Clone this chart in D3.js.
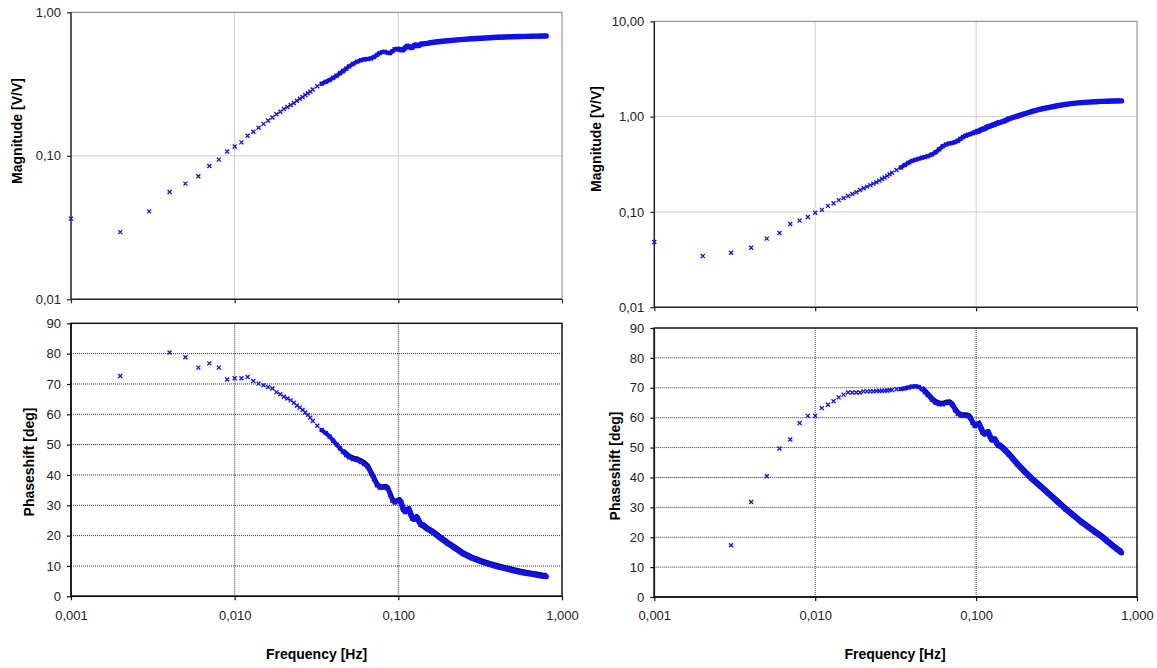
<!DOCTYPE html>
<html>
<head>
<meta charset="utf-8">
<script src="https://cdn.jsdelivr.net/npm/d3@7"></script>
<style>
  body { margin: 0; background: #fff; }
  text { font-family: Arial, 'Liberation Sans', sans-serif; }
</style>
</head>
<body>
<div id="chart-container"></div>
<script>
const freq = [
  0.001, 0.002, 0.003, 0.004, 0.005, 0.006, 0.007, 0.008, 0.009, 0.010,
  0.011, 0.012, 0.013, 0.014, 0.015, 0.016, 0.017, 0.018, 0.019, 0.020,
  0.021, 0.022, 0.023, 0.024, 0.025, 0.026, 0.027, 0.028, 0.029, 0.030,
  0.032, 0.034, 0.036, 0.038, 0.040, 0.042, 0.044, 0.046, 0.048, 0.050,
  0.053, 0.056, 0.059, 0.062, 0.065, 0.068, 0.071, 0.074, 0.077, 0.080,
  0.083, 0.086, 0.089, 0.092, 0.095, 0.098, 0.101, 0.104, 0.107, 0.110,
  0.113, 0.116, 0.119, 0.122, 0.125, 0.128, 0.131, 0.134, 0.137, 0.140,
  0.15, 0.16, 0.18, 0.20, 0.22, 0.25, 0.28, 0.32, 0.36, 0.40,
  0.45, 0.50, 0.55, 0.60, 0.65, 0.70, 0.75, 0.80
];

// left chart, magnitude [V/V]
const leftMag = [
  0.0365, 0.0294, 0.041, 0.056, 0.064, 0.072, 0.085, 0.094, 0.107, 0.116,
  0.124, 0.138, 0.147, 0.157, 0.167, 0.176, 0.185, 0.195, 0.203, 0.212,
  0.219, 0.226, 0.233, 0.242, 0.250, 0.257, 0.265, 0.273, 0.280, 0.290,
  0.305, 0.318, 0.328, 0.337, 0.350, 0.362, 0.376, 0.390, 0.405, 0.420,
  0.438, 0.453, 0.463, 0.470, 0.473, 0.477, 0.488, 0.505, 0.520, 0.530,
  0.530, 0.522, 0.520, 0.535, 0.552, 0.556, 0.553, 0.547, 0.548, 0.565,
  0.580, 0.578, 0.568, 0.570, 0.588, 0.592, 0.585, 0.588, 0.600, 0.602,
  0.608, 0.616, 0.626, 0.634, 0.640, 0.648, 0.654, 0.660, 0.665, 0.670,
  0.673, 0.676, 0.678, 0.680, 0.681, 0.682, 0.683, 0.684
];

// left chart, phaseshift [deg] (null = no point)
const leftPhase = [
  null, 72.6, null, 80.4, 78.8, 75.4, 76.8, 75.4, 71.5, 71.9,
  71.9, 72.3, 71.0, 70.1, 69.6, 69.0, 68.5, 67.3, 66.6, 65.8,
  65.2, 64.6, 63.8, 62.9, 62.2, 61.4, 60.6, 59.8, 58.9, 57.8,
  56.2, 54.8, 53.8, 52.7, 51.3, 50.0, 48.8, 47.6, 46.6, 45.8,
  45.2, 44.9, 44.3, 43.6, 42.6, 40.5, 38.6, 36.6, 35.8, 35.8,
  35.9, 35.5, 33.5, 31.5, 30.9, 31.3, 31.6, 30.8, 28.6, 27.9,
  28.5, 28.6, 27.0, 25.6, 25.4, 26.0, 25.5, 24.5, 23.6, 23.4,
  22.2, 21.3, 19.2, 17.4, 15.9, 13.9, 12.6, 11.4, 10.5, 9.8,
  9.1, 8.5, 8.0, 7.6, 7.3, 7.0, 6.7, 6.5
];

// right chart, magnitude [V/V]
const rightMag = [
  0.0483, 0.0344, 0.0373, 0.0421, 0.0524, 0.0601, 0.0747, 0.081, 0.0885, 0.098,
  0.105, 0.1156, 0.123, 0.133, 0.140, 0.147, 0.154, 0.161, 0.170, 0.177,
  0.184, 0.191, 0.198, 0.205, 0.213, 0.221, 0.230, 0.239, 0.248, 0.258,
  0.275, 0.292, 0.310, 0.328, 0.343, 0.353, 0.362, 0.370, 0.377, 0.384,
  0.400, 0.422, 0.455, 0.488, 0.510, 0.522, 0.530, 0.540, 0.558, 0.585,
  0.610, 0.630, 0.645, 0.655, 0.668, 0.685, 0.695, 0.705, 0.725, 0.740,
  0.748, 0.768, 0.785, 0.795, 0.808, 0.822, 0.832, 0.845, 0.858, 0.868,
  0.900, 0.950, 1.010, 1.070, 1.125, 1.195, 1.245, 1.300, 1.345, 1.375,
  1.400, 1.420, 1.433, 1.443, 1.450, 1.456, 1.460, 1.463
];

// right chart, phaseshift [deg]
const rightPhase = [
  null, null, 17.3, 31.8, 40.4, 49.7, 52.7, 58.2, 60.6, 60.6,
  63.2, 64.3, 65.5, 66.8, 67.7, 68.4, 68.4, 68.4, 68.4, 68.8,
  68.8, 68.8, 68.8, 68.9, 68.9, 69.0, 69.0, 69.1, 69.2, 69.3,
  69.5, 69.6, 69.8, 70.1, 70.4, 70.5, 70.3, 69.6, 68.6, 67.6,
  66.0, 65.0, 64.5, 64.5, 64.9, 65.0, 64.2, 62.5, 61.3, 60.7,
  60.6, 60.6, 60.5, 59.8, 58.2, 57.2, 57.6, 57.9, 56.5, 55.0,
  54.5, 55.0, 55.0, 53.6, 52.5, 52.6, 52.6, 51.5, 50.6, 50.6,
  49.2, 47.6, 44.4, 41.8, 39.6, 37.0, 34.6, 31.8, 29.3, 27.3,
  25.0, 23.2, 21.6, 20.2, 18.6, 17.2, 15.9, 14.8
];

const freqTicks = [0.001, 0.01, 0.1, 1];
const phaseTicks = [0, 10, 20, 30, 40, 50, 60, 70, 80, 90];
const leftMagTicks = [0.01, 0.1, 1];
const rightMagTicks = [0.01, 0.1, 1, 10];

const locale = d3.formatLocale({ decimal: ',', thousands: '.', grouping: [3], currency: ['', ''] });
const fmtFreq = locale.format('.3f');
const fmtMag = locale.format('.2f');

const svgWidth = 1157;
const svgHeight = 668;
const blue = '#1010f0';

const svg = d3
  .select('#chart-container')
  .append('svg')
  .attr('width', svgWidth)
  .attr('height', svgHeight);

const panels = [
  {
    xr: [71, 562], magR: [299.3, 12.3], phR: [596.3, 323.3],
    magTicks: leftMagTicks, mag: leftMag, ph: leftPhase,
    magLabel: [21.5, 131], phLabel: [33.5, 462], freqLabel: [316.5, 658.5]
  },
  {
    xr: [654.3, 1137], magR: [307.2, 21.3], phR: [597, 328],
    magTicks: rightMagTicks, mag: rightMag, ph: rightPhase,
    magLabel: [600.5, 139], phLabel: [619.5, 466], freqLabel: [895, 658.5]
  }
];

const marker = 'M-2,-2L2,2M-2,2L2,-2';

function drawSeries(g, x, y, values, shadow) {
  const pts = freq
    .map((f, i) => ({ f: f, v: values[i] }))
    .filter((d) => d.v !== null);

  const line = d3
    .line()
    .x((d) => x(d.f))
    .y((d) => y(d.v));

  // where the markers overlap they melt into a band
  const dense = pts.filter((d) => d.f >= 0.034);
  const thick = pts.filter((d) => d.f >= 0.1);

  if (shadow) {
    g.append('path')
      .datum(pts.filter((d) => d.f >= 0.045))
      .attr('d', line)
      .attr('transform', 'translate(0.6,-1.8)')
      .attr('fill', 'none')
      .attr('stroke', '#111')
      .attr('stroke-width', 3.5)
      .attr('stroke-linejoin', 'round');
  }
  g.append('path')
    .datum(dense)
    .attr('d', line)
    .attr('fill', 'none')
    .attr('stroke', blue)
    .attr('stroke-width', 4.2)
    .attr('stroke-linejoin', 'round')
    .attr('stroke-linecap', 'round');
  g.append('path')
    .datum(thick)
    .attr('d', line)
    .attr('fill', 'none')
    .attr('stroke', blue)
    .attr('stroke-width', 5.4)
    .attr('stroke-linejoin', 'round')
    .attr('stroke-linecap', 'round');

  g.selectAll('path.pt')
    .data(pts)
    .enter()
    .append('path')
    .attr('class', 'pt')
    .attr('d', marker)
    .attr('transform', (d) => 'translate(' + x(d.f) + ',' + y(d.v) + ')')
    .attr('stroke', blue)
    .attr('stroke-width', 1.3)
    .attr('fill', 'none');
}

panels.forEach(function (p) {
  const x = d3.scaleLog().domain([0.001, 1]).range(p.xr);
  const yMag = d3.scaleLog().domain([0.01, p.magTicks[p.magTicks.length - 1]]).range(p.magR);
  const yPh = d3.scaleLinear().domain([0, 90]).range(p.phR);

  // ---------- magnitude ----------
  const gm = svg.append('g');
  // grid
  gm.selectAll('line.hg')
    .data(p.magTicks.slice(1, -1))
    .enter()
    .append('line')
    .attr('x1', p.xr[0]).attr('x2', p.xr[1])
    .attr('y1', (d) => yMag(d)).attr('y2', (d) => yMag(d))
    .attr('stroke', '#cfcfcf').attr('stroke-width', 1);
  gm.selectAll('line.vg')
    .data(freqTicks.slice(1, -1))
    .enter()
    .append('line')
    .attr('x1', (d) => x(d)).attr('x2', (d) => x(d))
    .attr('y1', p.magR[0]).attr('y2', p.magR[1])
    .attr('stroke', '#cfcfcf').attr('stroke-width', 1);
  // top / right frame
  gm.append('path')
    .attr('d', 'M' + p.xr[0] + ',' + p.magR[1] + 'H' + p.xr[1] + 'V' + p.magR[0])
    .attr('fill', 'none').attr('stroke', '#8e9e9e').attr('stroke-width', 1.2);

  const axL = gm.append('g')
    .attr('transform', 'translate(' + p.xr[0] + ',0)')
    .call(d3.axisLeft(yMag).tickValues(p.magTicks).tickSize(4).tickPadding(6).tickFormat(fmtMag));
  const axB = gm.append('g')
    .attr('transform', 'translate(0,' + p.magR[0] + ')')
    .call(d3.axisBottom(x).tickValues(freqTicks).tickSize(4).tickFormat(''));
  [axL, axB].forEach(function (a) {
    a.select('.domain').attr('stroke', '#222').attr('stroke-width', 1.5);
    a.selectAll('.tick line').attr('stroke', '#222').attr('stroke-width', 1.2);
    a.selectAll('text').style('font-size', '13px').attr('fill', '#222');
  });
  axL.select('.domain').attr('d', 'M0,' + p.magR[0] + 'V' + p.magR[1]);
  axB.select('.domain').attr('d', 'M' + p.xr[0] + ',0H' + p.xr[1]);

  drawSeries(gm, x, yMag, p.mag, false);

  gm.append('text')
    .attr('transform', 'translate(' + p.magLabel[0] + ',' + p.magLabel[1] + ') rotate(-90)')
    .attr('text-anchor', 'middle')
    .style('font-size', '14px')
    .style('font-weight', 'bold')
    .text('Magnitude [V/V]');

  // ---------- phase ----------
  const gp = svg.append('g');
  gp.selectAll('line.hg')
    .data(phaseTicks.slice(1, -1))
    .enter()
    .append('line')
    .attr('x1', p.xr[0]).attr('x2', p.xr[1])
    .attr('y1', (d) => yPh(d)).attr('y2', (d) => yPh(d))
    .attr('stroke', '#333').attr('stroke-width', 1).attr('stroke-dasharray', '1,1');
  gp.selectAll('line.vg')
    .data(freqTicks.slice(1, -1))
    .enter()
    .append('line')
    .attr('x1', (d) => x(d)).attr('x2', (d) => x(d))
    .attr('y1', p.phR[0]).attr('y2', p.phR[1])
    .attr('stroke', '#333').attr('stroke-width', 1).attr('stroke-dasharray', '1,1');
  gp.append('rect')
    .attr('x', p.xr[0]).attr('y', p.phR[1])
    .attr('width', p.xr[1] - p.xr[0]).attr('height', p.phR[0] - p.phR[1])
    .attr('fill', 'none').attr('stroke', '#111').attr('stroke-width', 1.5);

  const pL = gp.append('g')
    .attr('transform', 'translate(' + p.xr[0] + ',0)')
    .call(d3.axisLeft(yPh).tickValues(phaseTicks).tickSize(4).tickPadding(6));
  const pB = gp.append('g')
    .attr('transform', 'translate(0,' + p.phR[0] + ')')
    .call(d3.axisBottom(x).tickValues(freqTicks).tickSize(4).tickPadding(10).tickFormat(fmtFreq));
  [pL, pB].forEach(function (a) {
    a.select('.domain').attr('stroke', '#111').attr('stroke-width', 1.5);
    a.selectAll('.tick line').attr('stroke', '#111').attr('stroke-width', 1.2);
    a.selectAll('text').style('font-size', '13px').attr('fill', '#222');
  });
  pL.select('.domain').attr('d', 'M0,' + p.phR[0] + 'V' + p.phR[1]);
  pB.select('.domain').attr('d', 'M' + p.xr[0] + ',0H' + p.xr[1]);

  drawSeries(gp, x, yPh, p.ph, true);

  gp.append('text')
    .attr('transform', 'translate(' + p.phLabel[0] + ',' + p.phLabel[1] + ') rotate(-90)')
    .attr('text-anchor', 'middle')
    .style('font-size', '14px')
    .style('font-weight', 'bold')
    .text('Phaseshift [deg]');

  gp.append('text')
    .attr('x', p.freqLabel[0])
    .attr('y', p.freqLabel[1])
    .attr('text-anchor', 'middle')
    .style('font-size', '14px')
    .style('font-weight', 'bold')
    .text('Frequency [Hz]');
});
</script>
</body>
</html>
